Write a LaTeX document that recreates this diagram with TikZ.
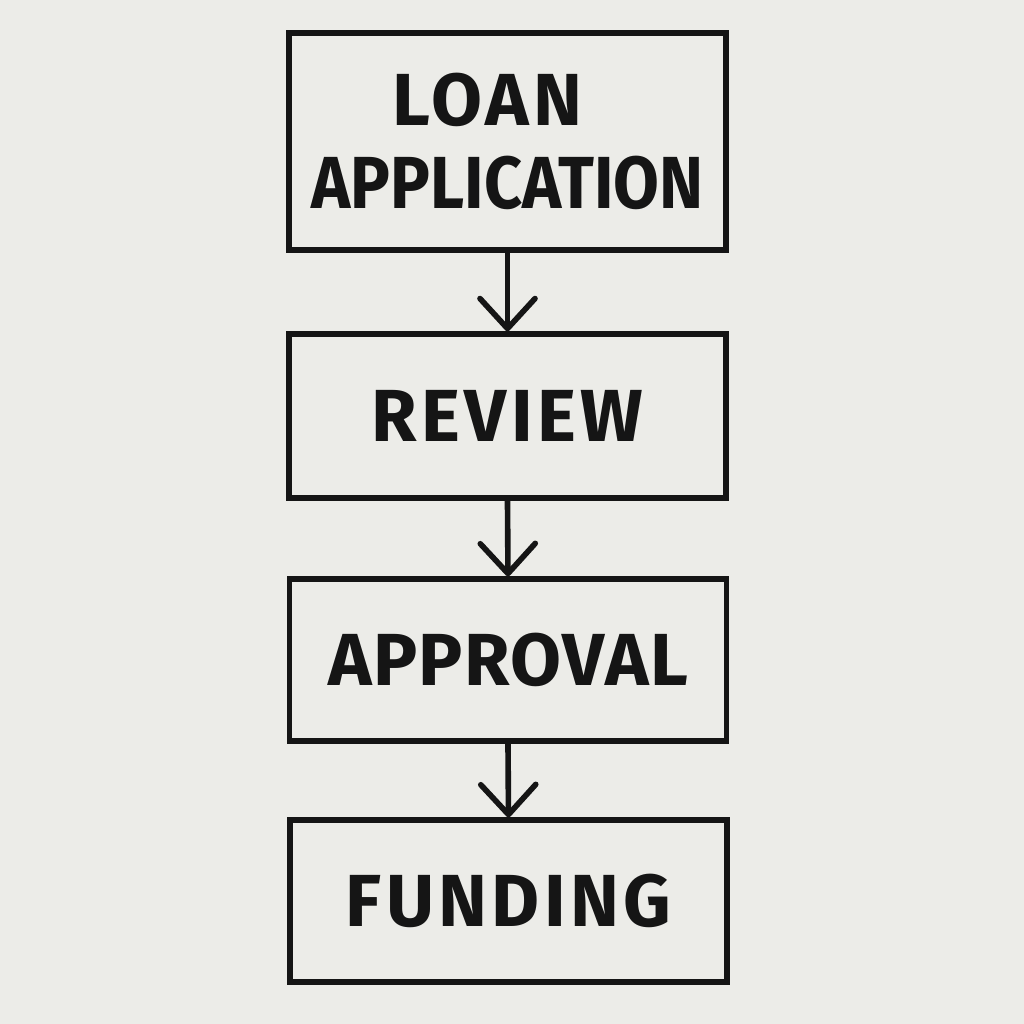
\documentclass[tikz,border=0pt]{standalone}
\usepackage{fontspec}
\setmainfont{Fira Sans}
\usepackage{graphicx}
\usepackage{tikz}
\usetikzlibrary{arrows.meta,
                positioning}

\definecolor{paper}{HTML}{ECECE8}
\definecolor{ink}{HTML}{151515}

\tikzset{stagebox/.style={draw=ink, line width=1.5pt, align=center,
                          font=\fontsize{21}{23.5}\selectfont\bfseries\addfontfeature{LetterSpace=6}, text=ink,
                          inner sep=0pt, minimum width=4.37cm},
         flow/.style={draw=ink, line width=1.6pt,
                      -{Straight Barb[round, length=0.3cm, width=0.55cm]}}}

\begin{document}
\begin{tikzpicture}
\fill[paper] (0,0) rectangle (10.24,10.24);
\useasboundingbox (0,0) rectangle (10.24,10.24);

\node[stagebox, minimum height=2.17cm] (loan) at (5.075,8.825)
  {\addfontfeature{LetterSpace=6}LOAN\hspace*{0.4cm}\\\scalebox{0.9}[1]{\addfontfeature{LetterSpace=0}APPLICATION}};
\node[stagebox, minimum height=1.64cm] (review) at (5.075,6.08) {REVIEW};
\node[stagebox, minimum height=1.62cm] (approval) at (5.08,3.64) {\addfontfeature{LetterSpace=2}APPROVAL};
\node[stagebox, minimum height=1.62cm] (funding) at (5.085,1.23) {FUNDING};

\foreach \a/\b in {loan/review, review/approval, approval/funding}
  \draw[flow] (\a.south) -- (\b.north);
\end{tikzpicture}
\end{document}
